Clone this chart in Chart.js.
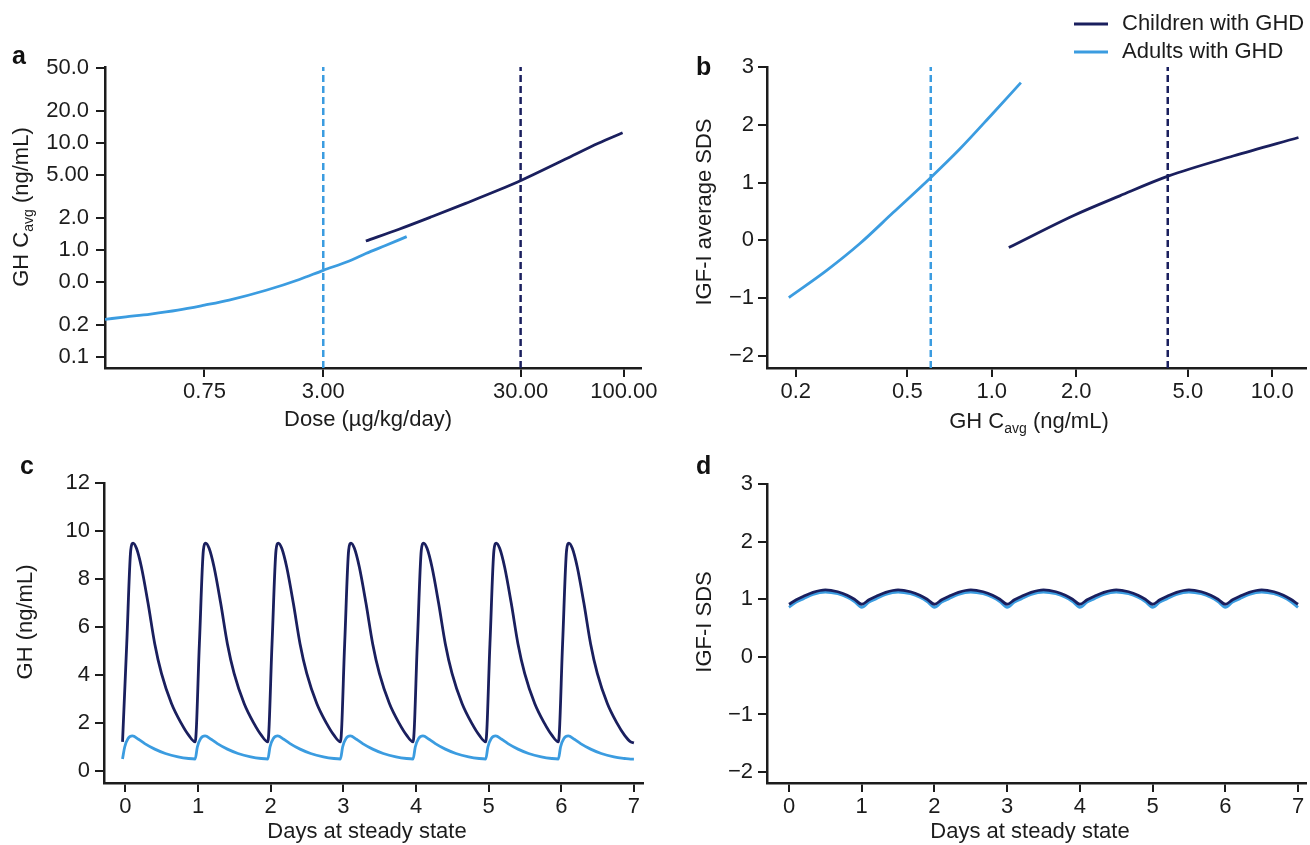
<!DOCTYPE html>
<html><head><meta charset="utf-8">
<script src="https://cdn.jsdelivr.net/npm/chart.js@4.4.1/dist/chart.umd.min.js"></script>
<style>
html,body{margin:0;padding:0;background:#fff;}
#wrap{position:relative;width:1310px;height:845px;overflow:hidden;background:#fff;font-family:'Liberation Sans',Arial,Helvetica,sans-serif;}
canvas{position:absolute;}
.lbl{position:absolute;font-weight:bold;font-size:25px;line-height:25px;color:#111;}
</style></head><body>
<div id="wrap">
<canvas id="ca" width="660" height="400" style="left:0px;top:40px"></canvas>
<canvas id="cb" width="650" height="440" style="left:660px;top:0px"></canvas>
<canvas id="cc" width="660" height="405" style="left:0px;top:440px"></canvas>
<canvas id="cd" width="650" height="405" style="left:660px;top:440px"></canvas>
<div class="lbl" style="left:12px;top:43px">a</div>
<div class="lbl" style="left:696px;top:54px">b</div>
<div class="lbl" style="left:20px;top:453px">c</div>
<div class="lbl" style="left:696px;top:453px">d</div>
</div>
<script>
// ---------------- data ----------------
const seriesNames = ['Children with GHD', 'Adults with GHD'];

// panel a: GH Cavg vs dose
const doseChildren = [4.93, 7.26, 10.7, 15.8, 23.2, 30.1, 50.4, 74.3, 98.6];
const cavgChildren = [1.21, 1.56, 2.05, 2.72, 3.62, 4.45, 7.01, 9.9, 12.4];
const doseAdults = [0.235, 0.30, 0.40, 0.55, 0.75, 1.0, 1.54, 2.27, 3.0, 4.0, 4.93, 6.2, 7.94];
const cavgAdults = [0.225, 0.237, 0.252, 0.274, 0.305, 0.34, 0.42, 0.53, 0.645, 0.78, 0.925, 1.10, 1.33];
const typicalDose = [30, 3];            // children, adults
const aYTicks = [0.1, 0.2, 0.5, 1, 2, 5, 10, 20, 50];
const aYLabels = ['0.1', '0.2', '0.0', '1.0', '2.0', '5.00', '10.0', '20.0', '50.0'];
const aXTicks = [0.75, 3, 30, 100];
const aXLabels = ['0.75', '3.00', '30.00', '100.00'];

// panel b: IGF-I average SDS vs GH Cavg
const cavgBChildren = [1.15, 1.96, 2.86, 4.25, 7.25, 12.4];
const sdsBChildren = [-0.126, 0.43, 0.77, 1.11, 1.46, 1.78];
const cavgBAdults = [0.189, 0.258, 0.338, 0.445, 0.604, 0.769, 1.01, 1.27];
const sdsBAdults = [-0.99, -0.52, -0.06, 0.48, 1.08, 1.58, 2.20, 2.73];
const typicalCavg = [4.24, 0.606];      // children, adults
const bXTicks = [0.2, 0.5, 1, 2, 5, 10];
const bXLabels = ['0.2', '0.5', '1.0', '2.0', '5.0', '10.0'];
const sdsTicks = [-2, -1, 0, 1, 2, 3];
const sdsLabels = ['\u22122', '\u22121', '0', '1', '2', '3'];

// panel c: GH concentration over a week at steady state
const cDaysChildren = [
 -0.04,0.018,0.073,0.105,0.152,0.22,0.311,0.404,0.496,0.634,0.771,0.87,
 0.96,1.018,1.073,1.105,1.152,1.22,1.311,1.404,1.496,1.634,1.771,1.87,
 1.96,2.018,2.073,2.105,2.152,2.22,2.311,2.404,2.496,2.634,2.771,2.87,
 2.96,3.018,3.073,3.105,3.152,3.22,3.311,3.404,3.496,3.634,3.771,3.87,
 3.96,4.018,4.073,4.105,4.152,4.22,4.311,4.404,4.496,4.634,4.771,4.87,
 4.96,5.018,5.073,5.105,5.152,5.22,5.311,5.404,5.496,5.634,5.771,5.87,
 5.96,6.018,6.073,6.105,6.152,6.22,6.311,6.404,6.496,6.634,6.771,6.87,
 6.955,7.0];
const cGHChildren = [
 1.22,5.3,9.2,9.5,9.28,8.5,7.0,5.3,4.07,2.82,1.98,1.5,
 1.22,5.3,9.2,9.5,9.28,8.5,7.0,5.3,4.07,2.82,1.98,1.5,
 1.22,5.3,9.2,9.5,9.28,8.5,7.0,5.3,4.07,2.82,1.98,1.5,
 1.22,5.3,9.2,9.5,9.28,8.5,7.0,5.3,4.07,2.82,1.98,1.5,
 1.22,5.3,9.2,9.5,9.28,8.5,7.0,5.3,4.07,2.82,1.98,1.5,
 1.22,5.3,9.2,9.5,9.28,8.5,7.0,5.3,4.07,2.82,1.98,1.5,
 1.22,5.3,9.2,9.5,9.28,8.5,7.0,5.3,4.07,2.82,1.98,1.5,
 1.22,1.18];
const cDaysAdults = [
 -0.04,-0.01,0.036,0.096,0.18,0.266,0.404,0.55,0.725,0.87,
 0.96,0.99,1.036,1.096,1.18,1.266,1.404,1.55,1.725,1.87,
 1.96,1.99,2.036,2.096,2.18,2.266,2.404,2.55,2.725,2.87,
 2.96,2.99,3.036,3.096,3.18,3.266,3.404,3.55,3.725,3.87,
 3.96,3.99,4.036,4.096,4.18,4.266,4.404,4.55,4.725,4.87,
 4.96,4.99,5.036,5.096,5.18,5.266,5.404,5.55,5.725,5.87,
 5.96,5.99,6.036,6.096,6.18,6.266,6.404,6.55,6.725,6.87,
 6.955,7.0];
const cGHAdults = [
 0.51,1.01,1.36,1.47,1.33,1.15,0.92,0.74,0.60,0.53,
 0.51,1.01,1.36,1.47,1.33,1.15,0.92,0.74,0.60,0.53,
 0.51,1.01,1.36,1.47,1.33,1.15,0.92,0.74,0.60,0.53,
 0.51,1.01,1.36,1.47,1.33,1.15,0.92,0.74,0.60,0.53,
 0.51,1.01,1.36,1.47,1.33,1.15,0.92,0.74,0.60,0.53,
 0.51,1.01,1.36,1.47,1.33,1.15,0.92,0.74,0.60,0.53,
 0.51,1.01,1.36,1.47,1.33,1.15,0.92,0.74,0.60,0.53,
 0.50,0.50];
const dayTicks = [0, 1, 2, 3, 4, 5, 6, 7];
const dayLabels = ['0', '1', '2', '3', '4', '5', '6', '7'];
const ghTicks = [0, 2, 4, 6, 8, 10, 12];
const ghLabels = ['0', '2', '4', '6', '8', '10', '12'];

// panel d: IGF-I SDS over a week at steady state
const dDays = [
 0,0.1,0.2,0.33,0.5,0.67,0.8,0.9,
 1,1.1,1.2,1.33,1.5,1.67,1.8,1.9,
 2,2.1,2.2,2.33,2.5,2.67,2.8,2.9,
 3,3.1,3.2,3.33,3.5,3.67,3.8,3.9,
 4,4.1,4.2,4.33,4.5,4.67,4.8,4.9,
 5,5.1,5.2,5.33,5.5,5.67,5.8,5.9,
 6,6.1,6.2,6.33,6.5,6.67,6.8,6.9,
 7];
const dSDSChildren = [
 0.913,0.99,1.05,1.12,1.163,1.13,1.07,1.0,
 0.913,0.99,1.05,1.12,1.163,1.13,1.07,1.0,
 0.913,0.99,1.05,1.12,1.163,1.13,1.07,1.0,
 0.913,0.99,1.05,1.12,1.163,1.13,1.07,1.0,
 0.913,0.99,1.05,1.12,1.163,1.13,1.07,1.0,
 0.913,0.99,1.05,1.12,1.163,1.13,1.07,1.0,
 0.913,0.99,1.05,1.12,1.163,1.13,1.07,1.0,
 0.913];
const dSDSAdults = [
 0.86,0.95,1.01,1.085,1.125,1.095,1.035,0.96,
 0.86,0.95,1.01,1.085,1.125,1.095,1.035,0.96,
 0.86,0.95,1.01,1.085,1.125,1.095,1.035,0.96,
 0.86,0.95,1.01,1.085,1.125,1.095,1.035,0.96,
 0.86,0.95,1.01,1.085,1.125,1.095,1.035,0.96,
 0.86,0.95,1.01,1.085,1.125,1.095,1.035,0.96,
 0.86,0.95,1.01,1.085,1.125,1.095,1.035,0.96,
 0.86];

// ---------------- styling ----------------
const FONT = "'Liberation Sans', Arial, Helvetica, sans-serif";
const INK = '#1c1c1c';
const NAVY = '#1a1f5e';
const SKY = '#3b9ce0';
const seriesColors = [NAVY, SKY];
Chart.defaults.font.family = FONT;
Chart.defaults.color = INK;

const pts = (xs, ys) => xs.map((x, i) => ({x: x, y: ys[i]}));

function scale(type, min, max, ticks, labels, size, isX, pad) {
  return {
    type: type, min: min, max: max,
    afterBuildTicks: s => { s.ticks = ticks.map(v => ({value: v})); },
    afterFit: s => { if (isX) s.height = size; else s.width = size; },
    ticks: { autoSkip: false, maxRotation: 0, minRotation: 0, padding: pad, color: INK,
             font: {family: FONT, size: 22}, callback: (v, i) => labels[i] },
    grid: { display: true, drawOnChartArea: false, drawTicks: true, tickLength: 9, color: INK, lineWidth: 2 },
    border: { display: true, color: INK, width: 2.5 },
    title: { display: false }
  };
}

function curve(label, data, color) {
  return { label: label, data: data, borderColor: color, backgroundColor: color, borderWidth: 2.8,
           pointRadius: 0, fill: false, cubicInterpolationMode: 'monotone' };
}
function refLine(x, y0, y1, color) {
  return { label: 'ref', data: [{x: x, y: y0}, {x: x, y: y1}], borderColor: color, borderWidth: 2.5,
           borderDash: [7, 4], pointRadius: 0, fill: false, tension: 0 };
}

const axisTitlePlugin = {
  id: 'axisTitles',
  afterDraw(chart, args, opts) {
    const ctx = chart.ctx;
    (opts.items || []).forEach(it => {
      ctx.save();
      ctx.translate(it.x, it.y);
      if (it.rot) ctx.rotate(it.rot * Math.PI / 180);
      ctx.fillStyle = INK;
      ctx.textBaseline = 'middle';
      let total = 0;
      it.parts.forEach(p => { ctx.font = (p.sub ? '14px ' : '22px ') + FONT; p.w = ctx.measureText(p.t).width; total += p.w; });
      let x = -total / 2;
      it.parts.forEach(p => { ctx.font = (p.sub ? '14px ' : '22px ') + FONT; ctx.fillText(p.t, x, p.sub ? 7 : 0); x += p.w; });
      ctx.restore();
    });
  }
};

const legendPlugin = {
  id: 'cornerLegend',
  afterDraw(chart, args, opts) {
    if (!opts.show) return;
    const ctx = chart.ctx;
    ctx.save();
    seriesNames.forEach((name, i) => {
      const y = opts.y0 + i * opts.dy;
      ctx.strokeStyle = seriesColors[i];
      ctx.lineWidth = 3;
      ctx.beginPath(); ctx.moveTo(opts.x0, y); ctx.lineTo(opts.x0 + 34, y); ctx.stroke();
      ctx.fillStyle = INK;
      ctx.font = '22px ' + FONT;
      ctx.textBaseline = 'middle';
      ctx.fillText(name, opts.x0 + 48, y);
    });
    ctx.restore();
  }
};

const GHCAVG = [{t: 'GH C'}, {t: 'avg', sub: true}, {t: ' (ng/mL)'}];

function make(id, datasets, xs, ys, pad, titles, legend) {
  return new Chart(document.getElementById(id), {
    type: 'line',
    data: { datasets: datasets },
    options: {
      responsive: false, animation: false, devicePixelRatio: 1,
      layout: { padding: pad },
      scales: { x: xs, y: ys },
      plugins: { legend: {display: false}, tooltip: {enabled: false},
                 axisTitles: {items: titles}, cornerLegend: legend || {show: false} }
    },
    plugins: [axisTitlePlugin, legendPlugin]
  });
}

// ---- panel a ----
const aYMin = 0.079, aYMax = 51;
make('ca', [
  curve(seriesNames[0], pts(doseChildren, cavgChildren), NAVY),
  curve(seriesNames[1], pts(doseAdults, cavgAdults), SKY),
  refLine(typicalDose[0], aYMin, aYMax, NAVY),
  refLine(typicalDose[1], aYMin, aYMax, SKY)
],
  scale('logarithmic', 0.235, 122.5, aXTicks, aXLabels, 72, true, 2),
  scale('logarithmic', aYMin, aYMax, aYTicks, aYLabels, 105, false, 7),
  {top: 27, right: 17, left: 0, bottom: 0},
  [ {parts: GHCAVG, x: 22, y: 167, rot: -90},
    {parts: [{t: 'Dose (\u00b5g/kg/day)'}], x: 368, y: 380} ]);

// ---- panel b ----
const bYMin = -2.21, bYMax = 3;
make('cb', [
  curve(seriesNames[0], pts(cavgBChildren, sdsBChildren), NAVY),
  curve(seriesNames[1], pts(cavgBAdults, sdsBAdults), SKY),
  refLine(typicalCavg[0], bYMin, bYMax, NAVY),
  refLine(typicalCavg[1], bYMin, bYMax, SKY)
],
  scale('logarithmic', 0.158, 13.19, bXTicks, bXLabels, 72, true, 2),
  scale('linear', bYMin, bYMax, sdsTicks, sdsLabels, 107, false, 4),
  {top: 67, right: 4, left: 0, bottom: 0},
  [ {parts: [{t: 'IGF-I average SDS'}], x: 45, y: 212, rot: -90},
    {parts: GHCAVG, x: 369, y: 422} ],
  {show: true, x0: 414, y0: 24, dy: 28});

// ---- panel c ----
make('cc', [
  curve(seriesNames[0], pts(cDaysChildren, cGHChildren), NAVY),
  curve(seriesNames[1], pts(cDaysAdults, cGHAdults), SKY)
],
  scale('linear', -0.295, 7.125, dayTicks, dayLabels, 62, true, 2),
  scale('linear', -0.49, 12, ghTicks, ghLabels, 104, false, 5),
  {top: 43, right: 17, left: 0, bottom: 0},
  [ {parts: [{t: 'GH (ng/mL)'}], x: 26, y: 182, rot: -90},
    {parts: [{t: 'Days at steady state'}], x: 367, y: 392} ]);

// ---- panel d ----
make('cd', [
  curve(seriesNames[0], pts(dDays, dSDSChildren), NAVY),
  curve(seriesNames[1], pts(dDays, dSDSAdults), SKY)
],
  scale('linear', -0.3026, 7.11, dayTicks, dayLabels, 62, true, 2),
  scale('linear', -2.19, 3, sdsTicks, sdsLabels, 107, false, 5),
  {top: 44, right: 4, left: 0, bottom: 0},
  [ {parts: [{t: 'IGF-I SDS'}], x: 45, y: 182, rot: -90},
    {parts: [{t: 'Days at steady state'}], x: 370, y: 392} ]);
</script>
</body></html>
